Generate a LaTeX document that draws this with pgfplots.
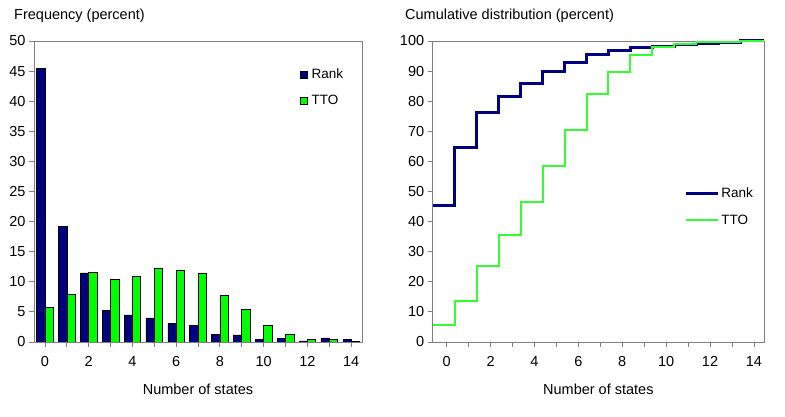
\documentclass[border=0pt]{standalone}
\usepackage{fontspec}
\setmainfont{Liberation Sans}
\usepackage{pgfplots}
\pgfplotsset{compat=1.18}
\definecolor{navy}{RGB}{0,0,128}
\definecolor{lime}{RGB}{0,255,0}
\definecolor{limeline}{RGB}{51,255,51}
\definecolor{frame}{RGB}{128,128,128}
\newcommand\cf{\fontsize{14.5}{17}\selectfont}
\newcommand\lf{\fontsize{13.5}{16}\selectfont}
\begin{document}
\begin{tikzpicture}
\path[use as bounding box] (0,0) rectangle (785pt,417pt);
\pgfplotsset{
  common/.style={
    scale only axis, anchor=south west,
    /pgf/number format/assume math mode=true,
    tick label style={font=\cf},
    xticklabel style={yshift=-6pt},
    label style={font=\cf},
    legend style={font=\lf},
    axis line style={draw=frame, line width=0.8pt},
    tick style={draw=frame, line width=0.8pt},
    tick align=outside, major tick length=5pt,
    xtick pos=bottom, ytick pos=left,
    xtick={0,...,14},
    xticklabels={0,,2,,4,,6,,8,,10,,12,,14},
    xlabel={Number of states},
    xlabel style={at={(axis description cs:0.5,0)}, anchor=base, yshift=-52.5pt},
  }
}
\begin{axis}[common, at={(34pt,75pt)}, width=328pt, height=301pt,
  xmin=-0.5, xmax=14.5, ymin=0, ymax=50, ytick={0,5,...,50},
  ybar=0pt, bar width=8.3pt,
  legend style={at={(0.811,0.915)}, anchor=north west, draw=none, fill=none, inner sep=0pt, row sep=11pt, cells={anchor=west}},
  legend image code/.code={\draw[#1,draw=black,line width=0.5pt] (0pt,-3.5pt) rectangle (7pt,3.5pt); \path (9pt,0pt);},
]
\addplot[fill=navy, draw=black, line width=0.5pt] coordinates {
(0,45.5) (1,19.2) (2,11.5) (3,5.25) (4,4.5) (5,4.0) (6,3.1) (7,2.7) (8,1.3) (9,1.2) (10,0.45) (11,0.55) (12,0.2) (13,0.7) (14,0.4)};
\addplot[fill=lime, draw=black, line width=0.5pt] coordinates {
(0,5.7) (1,7.9) (2,11.6) (3,10.4) (4,10.9) (5,12.3) (6,11.9) (7,11.5) (8,7.7) (9,5.4) (10,2.85) (11,1.25) (12,0.4) (13,0.4) (14,0.05)};
\legend{Rank,TTO}
\end{axis}
\begin{axis}[common, at={(432.7pt,75pt)}, width=331.3pt, height=301pt,
  xmin=-0.64, xmax=14.46, ymin=0, ymax=100, ytick={0,10,...,100},
  clip=false,
  legend style={at={(0.759,0.52)}, anchor=north west, draw=none, fill=none, inner sep=0pt, row sep=12pt, cells={anchor=west}},
  legend image code/.code={\draw[#1] (0pt,0pt) -- (32pt,0pt);},
]
\addplot[const plot, navy, line width=3pt] coordinates {
(-0.64,45.3) (0.37,64.5) (1.37,76.3) (2.37,81.5) (3.37,86.0) (4.37,89.9) (5.37,92.9) (6.37,95.5) (7.37,96.7) (8.37,97.7) (9.37,98.2) (10.37,98.7) (11.37,99.2) (12.37,99.6) (13.37,100) (14.46,100)};
\addplot[const plot, limeline, line width=2pt] coordinates {
(-0.64,5.6) (0.37,13.5) (1.37,25.3) (2.37,35.5) (3.37,46.4) (4.37,58.4) (5.37,70.5) (6.37,82.3) (7.37,89.8) (8.37,95.2) (9.37,97.9) (10.37,99.1) (11.37,99.5) (12.37,99.8) (13.37,100) (14.46,100)};
\legend{Rank,TTO}
\end{axis}
\node[anchor=base west, font=\cf, inner sep=0pt] at (14pt,397pt) {Frequency (percent)};
\node[anchor=base west, font=\cf, inner sep=0pt] at (405pt,397pt) {Cumulative distribution (percent)};
\end{tikzpicture}
\end{document}
